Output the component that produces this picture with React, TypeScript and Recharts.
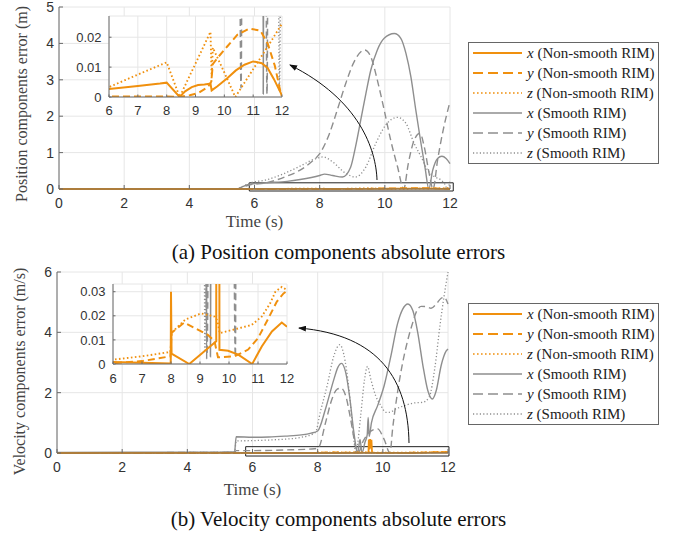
import { CartesianGrid, Label, Line, LineChart, ReferenceArea, XAxis, YAxis } from "recharts"

type Pt = { t: number; v: number }

const zip = (t: number[], v: number[]): Pt[] => t.map((tt, i) => ({ t: tt, v: v[i] }))

// ---- (a) position error, smooth RIM (grey)
const posSmoothXT = [0, 5.5, 5.6, 5.85, 6.36, 7.0, 7.4, 8.0, 8.15, 8.4, 8.7, 8.95, 9.1, 9.26, 9.42, 9.57, 9.77, 9.98, 10.29, 10.49, 10.65, 10.8, 10.95, 11.11, 11.24, 11.35, 11.47, 11.62, 11.75, 11.88, 12]
const posSmoothXV = [0, 0.01, 0.05, 0.13, 0.17, 0.21, 0.26, 0.37, 0.41, 0.37, 0.33, 0.6, 1.16, 1.89, 2.63, 3.27, 3.82, 4.14, 4.27, 4.14, 3.72, 3.08, 2.17, 1.25, 0.55, 0.001, 0.52, 0.84, 0.9, 0.84, 0.7]
const posSmoothYT = [0, 5.5, 5.6, 5.85, 6.36, 6.9, 7.4, 7.77, 8.0, 8.29, 8.54, 8.8, 9.06, 9.38, 9.57, 9.77, 9.98, 10.18, 10.39, 10.58, 10.72, 10.9, 11.08, 11.21, 11.36, 11.48, 11.62, 11.77, 12]
const posSmoothYV = [0, 0.01, 0.04, 0.11, 0.17, 0.32, 0.52, 0.76, 0.97, 1.5, 2.17, 2.9, 3.5, 3.82, 3.63, 2.99, 2.17, 1.34, 0.61, 0.003, 0.7, 1.34, 1.53, 1.16, 0.43, 0.001, 0.8, 1.53, 2.4]
const posSmoothZT = [0, 5.5, 5.6, 5.85, 6.36, 6.87, 7.38, 7.9, 8.1, 8.39, 8.8, 9.1, 9.42, 9.72, 10.03, 10.39, 10.65, 10.9, 11.11, 11.31, 11.52, 11.72, 11.85, 11.91, 12]
const posSmoothZV = [0, 0.01, 0.05, 0.16, 0.25, 0.41, 0.62, 0.84, 0.88, 0.75, 0.43, 0.33, 0.61, 1.25, 1.76, 1.97, 1.8, 1.25, 0.89, 0.52, 0.34, 0.25, 0.12, 0.002, 0.2]

// ---- (a) position error, non-smooth RIM (orange)
const posNonXT = [0, 5.5, 6, 7, 7.77, 8.0, 8.45, 8.64, 8.87, 9.09, 9.31, 9.52, 9.56, 9.76, 10.1, 10.4, 10.7, 11.0, 11.3, 11.5, 11.73, 11.96, 12]
const posNonXV = [0, 0.0005, 0.0027, 0.0037, 0.0045, 0.0048, 0, 0.0019, 0.0033, 0.004, 0.0042, 0.0045, 0.0022, 0.0036, 0.0063, 0.0089, 0.0108, 0.0119, 0.0113, 0.0097, 0.0058, 0.0013, 0.0003]
const posNonYT = [0, 6, 8.0, 8.45, 8.8, 9.09, 9.43, 9.55, 9.6, 9.8, 10.1, 10.45, 10.87, 11.25, 11.5, 11.75, 11.96, 12]
const posNonYV = [0, 0.0002, 0.0002, 0, 0.0006, 0.0013, 0.0033, 0.0052, 0.011, 0.0135, 0.0169, 0.0208, 0.0229, 0.0222, 0.018, 0.0105, 0.0012, 0.0004]
const posNonZT = [0, 5.5, 6, 7, 8.0, 8.45, 9.0, 9.52, 9.56, 9.6, 10.0, 10.38, 11.0, 11.5, 12]
const posNonZV = [0, 0.0005, 0.0033, 0.0075, 0.0116, 0, 0.0112, 0.0218, 0.006, 0.0165, 0.0082, 0, 0.0093, 0.0168, 0.0245]

// ---- (b) velocity error, smooth RIM (grey)
const velSmoothXT = [0, 5.0, 5.45, 5.5, 6.0, 6.5, 7.0, 7.5, 7.8, 8.0, 8.24, 8.5, 8.62, 8.73, 8.86, 8.99, 9.11, 9.2, 9.23, 9.3, 9.36, 9.45, 9.52, 9.55, 9.58, 9.65, 9.84, 10.04, 10.25, 10.45, 10.61, 10.77, 10.92, 11.07, 11.23, 11.38, 11.52, 11.64, 11.79, 11.95, 12]
const velSmoothXV = [0.02, 0.03, 0.04, 0.54, 0.52, 0.53, 0.56, 0.6, 0.66, 0.73, 1.46, 2.45, 2.84, 2.97, 2.67, 1.79, 0.69, 0.08, 0.002, 0.45, 0.003, 0.35, 0.6, 1.18, 0.55, 1.0, 1.57, 2.23, 3.23, 4.28, 4.77, 4.94, 4.72, 4.0, 2.9, 2.07, 1.79, 2.07, 2.9, 3.39, 3.45]
const velSmoothYT = [0, 5.45, 5.5, 6.0, 7.0, 7.9, 8.03, 8.24, 8.44, 8.6, 8.72, 8.86, 9.01, 9.16, 9.24, 9.4, 9.6, 9.84, 10.04, 10.22, 10.3, 10.45, 10.61, 10.76, 10.92, 11.02, 11.18, 11.33, 11.48, 11.64, 11.79, 11.88, 12]
const velSmoothYV = [0.01, 0.02, 0.08, 0.08, 0.1, 0.14, 0.19, 1.0, 1.79, 2.12, 2.15, 1.9, 1.13, 0.24, 0.004, 0.4, 0.7, 0.8, 0.45, 0.003, 0.8, 2.0, 3.0, 3.72, 4.33, 4.66, 4.86, 4.85, 4.8, 4.94, 5.13, 5.16, 4.94]
const velSmoothZT = [0, 5.45, 5.5, 6.0, 6.5, 7.0, 7.5, 7.93, 8.08, 8.29, 8.5, 8.68, 8.8, 8.96, 9.08, 9.17, 9.32, 9.44, 9.53, 9.63, 9.78, 9.94, 10.09, 10.2, 10.4, 10.66, 10.97, 11.23, 11.42, 11.6, 11.75, 11.88, 12]
const velSmoothZV = [0.01, 0.02, 0.4, 0.41, 0.43, 0.46, 0.52, 0.68, 1.35, 2.23, 3.23, 3.59, 3.28, 2.12, 0.8, 0.005, 1.24, 2.45, 2.87, 2.45, 1.9, 1.57, 1.35, 1.35, 1.46, 1.57, 1.66, 1.68, 1.85, 2.85, 4.2, 5.2, 6.0]

// ---- (b) velocity error, non-smooth RIM (orange)
const velNonXT = [0, 5.5, 6, 7, 7.99, 8.0, 8.02, 8.63, 9.56, 9.57, 9.59, 9.61, 9.63, 9.65, 9.67, 9.97, 10.32, 10.8, 11.13, 11.48, 11.82, 12]
const velNonXV = [0.0005, 0.001, 0.0008, 0.0005, 0.0002, 0.03, 0.0043, 0, 0.0094, 0.45, 0.12, 0.46, 0.15, 0.44, 0.0059, 0.0055, 0.0039, 0, 0.0073, 0.0135, 0.0172, 0.0155]
const velNonYT = [0, 6, 7, 7.98, 8.02, 8.46, 9.27, 9.5, 9.62, 10.2, 10.66, 11.0, 11.36, 11.65, 11.88, 12]
const velNonYV = [0.0003, 0.0003, 0.0012, 0.0032, 0.013, 0.0172, 0.0121, 0.0095, 0.0028, 0.0032, 0.006, 0.0107, 0.019, 0.0259, 0.0293, 0.0303]
const velNonZT = [0, 6, 7, 7.98, 8.02, 8.5, 9.04, 9.5, 9.6, 9.68, 10.2, 10.78, 11.13, 11.42, 11.6, 11.82, 12]
const velNonZV = [0.001, 0.0018, 0.0032, 0.005, 0.013, 0.0185, 0.021, 0.0197, 0.018, 0.0128, 0.0144, 0.0162, 0.0197, 0.0252, 0.03, 0.032, 0.0307]

const timeTicks = [0, 2, 4, 6, 8, 10, 12]
const insetTimeTicks = [6, 7, 8, 9, 10, 11, 12]
const posTicks = [0, 1, 2, 3, 4, 5]
const velTicks = [0, 2, 4, 6]
const posInsetTicks = [0, 0.01, 0.02]
const velInsetTicks = [0, 0.01, 0.02, 0.03]

const legendSymbols = ["x", "y", "z", "x", "y", "z"]
const legendGroups = ["(Non-smooth RIM)", "(Non-smooth RIM)", "(Non-smooth RIM)", "(Smooth RIM)", "(Smooth RIM)", "(Smooth RIM)"]

const ORANGE = "#f0900e"
const GREY = "#8e8e8e"
const GRID = "#e6e6e6"
const AXIS = "#6a6a6a"
const TICK = "#333"
const SANS = "'Liberation Sans', Arial, Helvetica, sans-serif"
const SERIF = "'Liberation Serif', 'Times New Roman', serif"

// draw order: grey (smooth) first, orange (non-smooth) on top
type LineStyle = { color: string; dash?: string; width: number; curve: "linear" | "monotone" }
const lineStyles: LineStyle[] = [
  { color: GREY, width: 1.4, curve: "monotone" },
  { color: GREY, dash: "7 4", width: 1.4, curve: "monotone" },
  { color: GREY, dash: "1.2 2.2", width: 1.3, curve: "monotone" },
  { color: ORANGE, width: 1.8, curve: "linear" },
  { color: ORANGE, dash: "7 4", width: 1.8, curve: "linear" },
  { color: ORANGE, dash: "1.6 2.4", width: 1.7, curve: "linear" },
]
// legend order: orange x,y,z then grey x,y,z
const legendStyles = [lineStyles[3], lineStyles[4], lineStyles[5], lineStyles[0], lineStyles[1], lineStyles[2]]

const posSeries = [
  zip(posSmoothXT, posSmoothXV),
  zip(posSmoothYT, posSmoothYV),
  zip(posSmoothZT, posSmoothZV),
  zip(posNonXT, posNonXV),
  zip(posNonYT, posNonYV),
  zip(posNonZT, posNonZV),
]
const velSeries = [
  zip(velSmoothXT, velSmoothXV),
  zip(velSmoothYT, velSmoothYV),
  zip(velSmoothZT, velSmoothZV),
  zip(velNonXT, velNonXV),
  zip(velNonYT, velNonYV),
  zip(velNonZT, velNonZV),
]

const renderLines = (series: Pt[][], scale: number) =>
  series.map((d, i) => (
    <Line
      key={i}
      data={d}
      dataKey="v"
      type={lineStyles[i].curve}
      stroke={lineStyles[i].color}
      strokeWidth={lineStyles[i].width * scale}
      strokeDasharray={lineStyles[i].dash}
      dot={false}
      activeDot={false}
      isAnimationActive={false}
    />
  ))

type MainProps = {
  top: number
  marginLeft: number
  marginRight: number
  marginBottom: number
  series: Pt[][]
  yMax: number
  yTicks: number[]
  yLabel: string
  yLabelShift: number
  xLabelOffset: number
  box: [number, number, number, number]
}

function MainChart(p: MainProps) {
  const tickStyle = { fill: TICK, fontSize: 14, fontFamily: SANS }
  return (
    <div style={{ position: "absolute", left: 0, top: p.top }}>
      <LineChart
        width={460}
        height={240}
        margin={{ top: 7, right: p.marginRight, bottom: p.marginBottom, left: p.marginLeft }}
      >
        <CartesianGrid stroke={GRID} />
        <XAxis
          type="number"
          dataKey="t"
          domain={[0, 12]}
          ticks={timeTicks}
          interval={0}
          height={30}
          stroke={AXIS}
          tickSize={-4}
          tickMargin={13}
          tick={tickStyle}
        >
          <Label
            value="Time (s)"
            position="bottom"
            offset={p.xLabelOffset}
            style={{ fill: "#444", fontSize: 17, fontFamily: SERIF }}
          />
        </XAxis>
        <XAxis
          xAxisId="top"
          orientation="top"
          type="number"
          domain={[0, 12]}
          ticks={timeTicks}
          height={0}
          stroke={AXIS}
          tickSize={-4}
          tick={false}
        />
        <YAxis
          type="number"
          domain={[0, p.yMax]}
          ticks={p.yTicks}
          interval={0}
          width={30}
          stroke={AXIS}
          tickSize={-4}
          tickMargin={9}
          tick={tickStyle}
        >
          <Label
            value={p.yLabel}
            angle={-90}
            position="insideLeft"
            offset={-8}
            dy={p.yLabelShift}
            style={{ fill: "#444", fontSize: 16, fontFamily: SERIF, textAnchor: "middle" }}
          />
        </YAxis>
        <YAxis
          yAxisId="right"
          orientation="right"
          type="number"
          domain={[0, p.yMax]}
          ticks={p.yTicks}
          width={0}
          stroke={AXIS}
          tickSize={-4}
          tick={false}
        />
        {renderLines(p.series, 1)}
        <ReferenceArea
          x1={p.box[0]}
          x2={p.box[1]}
          y1={p.box[2]}
          y2={p.box[3]}
          fill="none"
          fillOpacity={0}
          stroke="#222"
          strokeWidth={1}
          ifOverflow="visible"
        />
      </LineChart>
    </div>
  )
}

type InsetProps = {
  top: number
  left: number
  width: number
  marginTop: number
  marginBottom: number
  yAxisWidth: number
  yMax: number
  yTicks: number[]
  series: Pt[][]
  xTickMargin: number
}

function InsetChart(p: InsetProps) {
  const tickStyle = { fill: TICK, fontSize: 13, fontFamily: SANS }
  return (
    <div style={{ position: "absolute", left: p.left, top: p.top }}>
      <LineChart
        width={p.width}
        height={130}
        margin={{ top: p.marginTop, right: 10, bottom: p.marginBottom, left: 0 }}
      >
        <CartesianGrid stroke={GRID} fill="#fff" fillOpacity={1} />
        <XAxis
          type="number"
          dataKey="t"
          domain={[6, 12]}
          ticks={insetTimeTicks}
          interval={0}
          allowDataOverflow
          height={25}
          stroke={AXIS}
          tickSize={-2.5}
          tickMargin={p.xTickMargin}
          tick={tickStyle}
        />
        <XAxis
          xAxisId="top"
          orientation="top"
          type="number"
          domain={[6, 12]}
          ticks={insetTimeTicks}
          height={0}
          stroke={AXIS}
          tickSize={-2.5}
          tick={false}
        />
        <YAxis
          type="number"
          domain={[0, p.yMax]}
          ticks={p.yTicks}
          interval={0}
          allowDataOverflow
          width={p.yAxisWidth}
          stroke={AXIS}
          tickSize={-2.5}
          tickMargin={10}
          tick={tickStyle}
        />
        <YAxis
          yAxisId="right"
          orientation="right"
          type="number"
          domain={[0, p.yMax]}
          ticks={p.yTicks}
          width={0}
          stroke={AXIS}
          tickSize={-2.5}
          tick={false}
        />
        {renderLines(p.series, 1.1)}
      </LineChart>
    </div>
  )
}

function LegendBox({ top }: { top: number }) {
  return (
    <div
      style={{
        position: "absolute",
        left: 468,
        top,
        width: 189,
        height: 120,
        border: "1px solid #666",
        background: "#fff",
      }}
    >
      {legendSymbols.map((s, i) => (
        <div key={i} style={{ display: "flex", alignItems: "center", height: 20 }}>
          <svg width={58} height={20} style={{ flex: "none" }}>
            <line
              x1={4}
              x2={53}
              y1={10}
              y2={10}
              stroke={legendStyles[i].color}
              strokeWidth={legendStyles[i].width}
              strokeDasharray={legendStyles[i].dash === "7 4" ? "10 5" : legendStyles[i].dash}
            />
          </svg>
          <span style={{ fontFamily: SERIF, fontSize: 15, color: "#222", whiteSpace: "nowrap" }}>
            <i>{s}</i> {legendGroups[i]}
          </span>
        </div>
      ))}
    </div>
  )
}

const captionStyle = {
  position: "absolute" as const,
  left: 0,
  width: 677,
  textAlign: "center" as const,
  fontFamily: SERIF,
  fontSize: 21,
  lineHeight: "24px",
  color: "#111",
}

export default function App() {
  return (
    <div
      style={{
        position: "absolute",
        left: 0,
        top: 0,
        width: 677,
        height: 535,
        background: "#fff",
        overflow: "hidden",
      }}
    >
      <MainChart
        top={0}
        marginLeft={29}
        marginRight={10}
        marginBottom={21}
        series={posSeries}
        yMax={5}
        yTicks={posTicks}
        yLabel="Position components error (m)"
        yLabelShift={6}
        xLabelOffset={-4}
        box={[5.84, 12.1, -0.055, 0.17]}
      />
      <InsetChart
        top={0}
        left={60}
        width={232}
        marginTop={16}
        marginBottom={8}
        yAxisWidth={49}
        yMax={0.0271}
        yTicks={posInsetTicks}
        series={posSeries}
        xTickMargin={11}
      />
      <LegendBox top={42} />
      <div style={{ ...captionStyle, top: 240 }}>(a) Position components absolute errors</div>

      <MainChart
        top={265}
        marginLeft={27}
        marginRight={12}
        marginBottom={22}
        series={velSeries}
        yMax={6}
        yTicks={velTicks}
        yLabel="Velocity components error (m/s)"
        yLabelShift={9}
        xLabelOffset={0}
        box={[5.79, 12.03, -0.1, 0.21]}
      />
      <InsetChart
        top={265}
        left={60}
        width={237}
        marginTop={19}
        marginBottom={6}
        yAxisWidth={53}
        yMax={0.0332}
        yTicks={velInsetTicks}
        series={velSeries}
        xTickMargin={12}
      />
      <LegendBox top={303} />
      <div style={{ ...captionStyle, top: 507 }}>(b) Velocity components absolute errors</div>

      <svg
        width={677}
        height={535}
        style={{ position: "absolute", left: 0, top: 0, pointerEvents: "none" }}
      >
        <defs>
          <marker id="arrowHead" markerWidth="8" markerHeight="6" refX="7" refY="3" orient="auto">
            <path d="M0,0 L8,3 L0,6 z" fill="#111" />
          </marker>
        </defs>
        <path d="M 377 180 C 376 150, 360 100, 290 65" fill="none" stroke="#111" strokeWidth={1} markerEnd="url(#arrowHead)" />
        <path d="M 409 443 C 408 380, 380 335, 299 328" fill="none" stroke="#111" strokeWidth={1} markerEnd="url(#arrowHead)" />
      </svg>
    </div>
  )
}
